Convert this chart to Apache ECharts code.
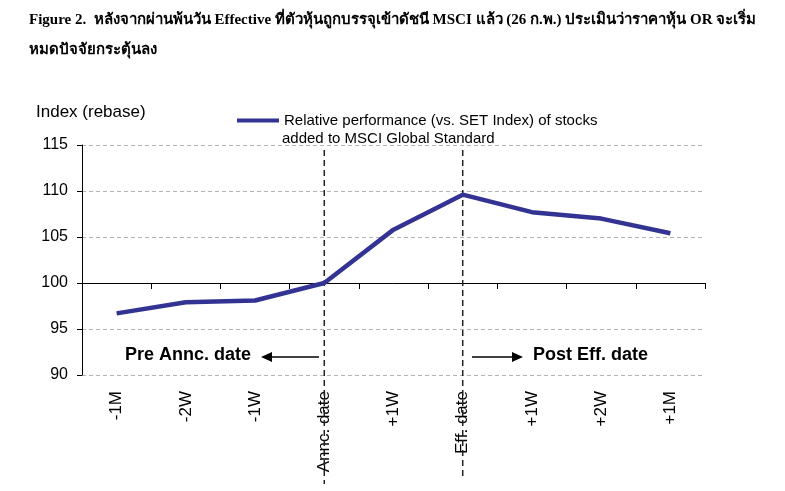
<!DOCTYPE html>
<html>
<head>
<meta charset="utf-8">
<style>
    html, body { margin: 0; padding: 0; background: #fff; }
    #chart { width: 785px; height: 491px; }
</style>
</head>
<body>
<div id="chart"></div>
<script src="https://cdn.jsdelivr.net/npm/echarts@6/dist/echarts.min.js"></script>
<script>
    // data
    const categories = ['-1M', '-2W', '-1W', 'Annc. date', '+1W', 'Eff. date', '+1W', '+2W', '+1M'];
    const relPerf = [96.7, 97.9, 98.1, 100.0, 105.8, 109.6, 107.7, 107.0, 105.4];
    const seriesName = 'Relative performance (vs. SET Index) of stocks';
    const yTicks = [90, 95, 100, 105, 110, 115];

    const sans = '"Liberation Sans", Arial, sans-serif';
    const serif = '"Liberation Serif", "Times New Roman", serif';

    let myChart = echarts.init(document.getElementById('chart'));

    let option = {
        animation: false,
        backgroundColor: '#fff',
        title: {
            text: 'Figure 2.  หลังจากผ่านพ้นวัน Effective ที่ตัวหุ้นถูกบรรจุเข้าดัชนี MSCI แล้ว (26 ก.พ.) ประเมินว่าราคาหุ้น OR จะเริ่ม\nหมดปัจจัยกระตุ้นลง',
            left: 24,
            top: 0,
            textStyle: {
                fontFamily: serif,
                fontWeight: 'bold',
                fontSize: 15,
                lineHeight: 30,
                color: '#000'
            }
        },
        legend: {
            data: [seriesName],
            left: 232,
            top: 108,
            icon: 'rect',
            itemWidth: 42,
            itemHeight: 4,
            itemGap: 0,
            textStyle: { fontFamily: sans, fontSize: 15, color: '#000' }
        },
        grid: {
            left: 82,
            top: 145,
            width: 623,
            height: 230
        },
        xAxis: [{
            type: 'category',
            data: categories,
            boundaryGap: true,
            axisLine: { show: false },
            axisTick: { show: false },
            axisLabel: {
                rotate: 90,
                interval: 0,
                margin: 16,
                fontFamily: sans,
                fontSize: 17,
                color: '#000'
            }
        }, {
            // the category axis line sits at 100
            type: 'category',
            data: categories,
            position: 'bottom',
            offset: -92,
            boundaryGap: true,
            axisLine: { show: true, lineStyle: { color: '#000', width: 1 } },
            axisTick: { show: true, interval: 0, length: 6, lineStyle: { color: '#000' } },
            axisLabel: { show: false }
        }],
        yAxis: {
            type: 'value',
            min: 90,
            max: 115,
            interval: 5,
            name: 'Index (rebase)',
            nameLocation: 'end',
            nameGap: 24,
            nameTextStyle: { fontFamily: sans, fontSize: 17, color: '#000', align: 'left', padding: [0, 0, 0, -46] },
            axisLine: { show: true, lineStyle: { color: '#000', width: 1 } },
            axisTick: { show: true, length: 5, lineStyle: { color: '#000' } },
            axisLabel: {
                margin: 14,
                fontFamily: sans,
                fontSize: 16,
                color: '#000'
            },
            splitLine: { show: true, lineStyle: { color: '#b4b4b4', type: [4, 3], width: 1 } }
        },
        series: [{
            name: seriesName,
            type: 'line',
            data: relPerf,
            symbol: 'none',
            xAxisIndex: 0,
            lineStyle: { color: '#333393', width: 4.5 },
            itemStyle: { color: '#333393' }
        }]
    };
    myChart.setOption(option);

    // vertical event lines at announcement / effective dates, plus annotations
    let xAnnc = myChart.convertToPixel({ xAxisIndex: 0 }, 'Annc. date');
    let xEff = myChart.convertToPixel({ xAxisIndex: 0 }, 'Eff. date');
    let dash = { stroke: '#222', lineWidth: 1.5, lineDash: [6, 4] };

    myChart.setOption({
        graphic: [
            { type: 'line', shape: { x1: xAnnc, y1: 150, x2: xAnnc, y2: 484 }, style: dash, z: 1 },
            { type: 'line', shape: { x1: xEff, y1: 150, x2: xEff, y2: 478 }, style: dash, z: 1 },
            {
                type: 'text', left: 282, top: 131,
                style: { text: 'added to MSCI Global Standard', font: '15px ' + sans, fill: '#000' }
            },
            {
                type: 'text', left: 125, top: 346,
                style: { text: 'Pre Annc. date', font: 'bold 18px ' + sans, fill: '#000' }
            },
            { type: 'line', shape: { x1: 270, y1: 357, x2: 319, y2: 357 }, style: { stroke: '#000', lineWidth: 1.5 } },
            { type: 'polygon', shape: { points: [[261, 357], [272, 352], [272, 362]] }, style: { fill: '#000' } },
            { type: 'line', shape: { x1: 472, y1: 357, x2: 514, y2: 357 }, style: { stroke: '#000', lineWidth: 1.5 } },
            { type: 'polygon', shape: { points: [[523, 357], [512, 352], [512, 362]] }, style: { fill: '#000' } },
            {
                type: 'text', left: 533, top: 346,
                style: { text: 'Post Eff. date', font: 'bold 18px ' + sans, fill: '#000' }
            }
        ]
    });
</script>
</body>
</html>
